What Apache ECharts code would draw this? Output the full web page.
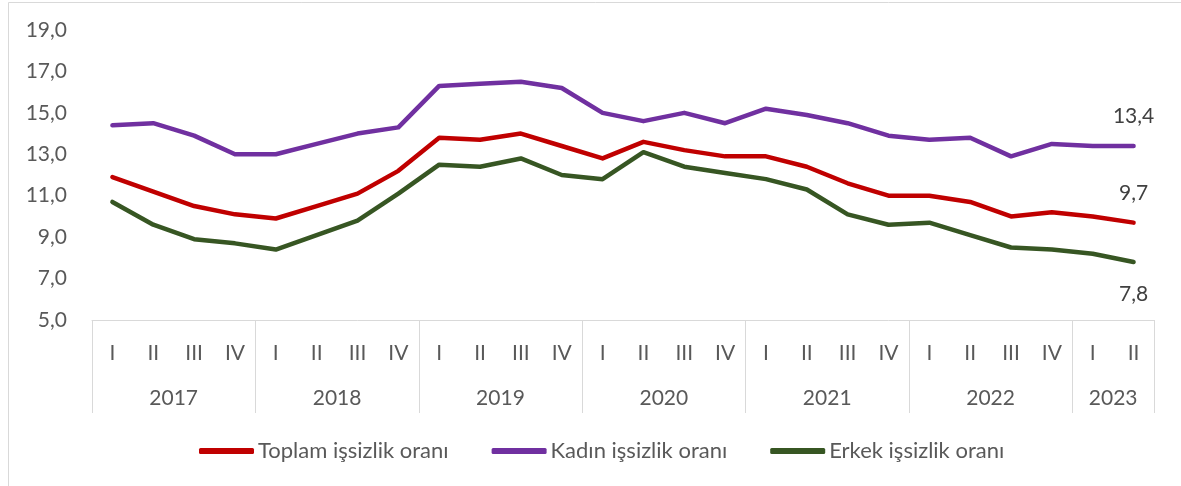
<!DOCTYPE html>
<html>
<head>
<meta charset="utf-8">
<script src="https://cdn.jsdelivr.net/npm/echarts@6/dist/echarts.min.js"></script>
<style>
html,body{margin:0;padding:0;background:#fff;}
#chart{width:1181px;height:486px;}
</style>
</head>
<body>
<div id="chart"></div>
<script>
const quarters = ['I','II','III','IV','I','II','III','IV','I','II','III','IV','I','II','III','IV','I','II','III','IV','I','II','III','IV','I','II'];
const years = ['2017','2018','2019','2020','2021','2022','2023'];
const yearCenters = [2, 6, 10, 14, 18, 22, 25];
const yearBounds = [0, 4, 8, 12, 16, 20, 24, 26];

const toplam = [11.9,11.2,10.5,10.1, 9.9,10.5,11.1,12.2, 13.8,13.7,14.0,13.4, 12.8,13.6,13.2,12.9, 12.9,12.4,11.6,11.0, 11.0,10.7,10.0,10.2, 10.0,9.7];
const kadin  = [14.4,14.5,13.9,13.0, 13.0,13.5,14.0,14.3, 16.3,16.4,16.5,16.2, 15.0,14.6,15.0,14.5, 15.2,14.9,14.5,13.9, 13.7,13.8,12.9,13.5, 13.4,13.4];
const erkek  = [10.7,9.6,8.9,8.7, 8.4,9.1,9.8,11.1, 12.5,12.4,12.8,12.0, 11.8,13.1,12.4,12.1, 11.8,11.3,10.1,9.6, 9.7,9.1,8.5,8.4, 8.2,7.8];

const FONT = 'Lato';
const TXT = '#595959';
const fmt = v => Number(v).toFixed(1).replace('.', ',');

function withEndLabel(arr, pos, dist) {
  return arr.map((v, i) => i === arr.length - 1 ? {
    value: v,
    label: { show: true, position: pos, distance: dist, formatter: p => fmt(p.value),
             color: '#404040', fontFamily: FONT, fontSize: 21 }
  } : v);
}

const lineCommon = {type: 'line', xAxisIndex: 0, symbol: 'circle', symbolSize: 0.01, showSymbol: true};

const chart = echarts.init(document.getElementById('chart'), null, {renderer: 'canvas'});
chart.setOption({
  backgroundColor: '#fff',
  animation: false,
  graphic: [{
    type: 'rect', shape: {x: 8.5, y: 2.5, width: 1190, height: 600},
    style: {fill: 'none', stroke: '#d9d9d9', lineWidth: 1}, silent: true
  }],
  grid: {left: 92, right: 27, top: 30, bottom: 166, containLabel: false},
  legend: {
    left: 194, top: 435,
    itemWidth: 55, itemHeight: 6, itemGap: 43,
    icon: 'roundRect',
    textStyle: {color: TXT, fontFamily: FONT, fontSize: 22, padding: [0,0,0,-1]},
    data: ['Toplam işsizlik oranı', 'Kadın işsizlik oranı', 'Erkek işsizlik oranı']
  },
  xAxis: [{
    type: 'category', data: quarters, boundaryGap: true,
    axisLine: {show: true, lineStyle: {color: '#d9d9d9', width: 1}},
    axisTick: {show: false},
    axisLabel: {color: TXT, fontFamily: FONT, fontSize: 21, margin: 23, interval: 0}
  }, {
    type: 'value', min: 0, max: 26, position: 'bottom',
    axisLine: {show: false},
    splitLine: {show: false},
    axisTick: {show: true, length: 93, customValues: yearBounds, lineStyle: {color: '#d9d9d9', width: 1}},
    axisLabel: {show: true, customValues: yearCenters, margin: 68, color: TXT, fontFamily: FONT, fontSize: 21,
                formatter: v => years[yearCenters.indexOf(Math.round(v))] || ''}
  }],
  yAxis: {
    type: 'value', min: 5, max: 19, interval: 2,
    axisLine: {show: false}, axisTick: {show: false}, splitLine: {show: false},
    axisLabel: {color: TXT, fontFamily: FONT, fontSize: 21, margin: 25, formatter: fmt}
  },
  series: [Object.assign({}, lineCommon, {
    name: 'Toplam işsizlik oranı', data: withEndLabel(toplam, 'top', 19),
    lineStyle: {color: '#C00000', width: 4.5, cap: 'round', join: 'round'}, itemStyle: {color: '#C00000'}
  }), Object.assign({}, lineCommon, {
    name: 'Kadın işsizlik oranı', data: withEndLabel(kadin, 'top', 19),
    lineStyle: {color: '#7030A0', width: 4.5, cap: 'round', join: 'round'}, itemStyle: {color: '#7030A0'}
  }), Object.assign({}, lineCommon, {
    name: 'Erkek işsizlik oranı', data: withEndLabel(erkek, 'bottom', 22),
    lineStyle: {color: '#375623', width: 4.5, cap: 'round', join: 'round'}, itemStyle: {color: '#375623'}
  })]
});
</script>
</body>
</html>
